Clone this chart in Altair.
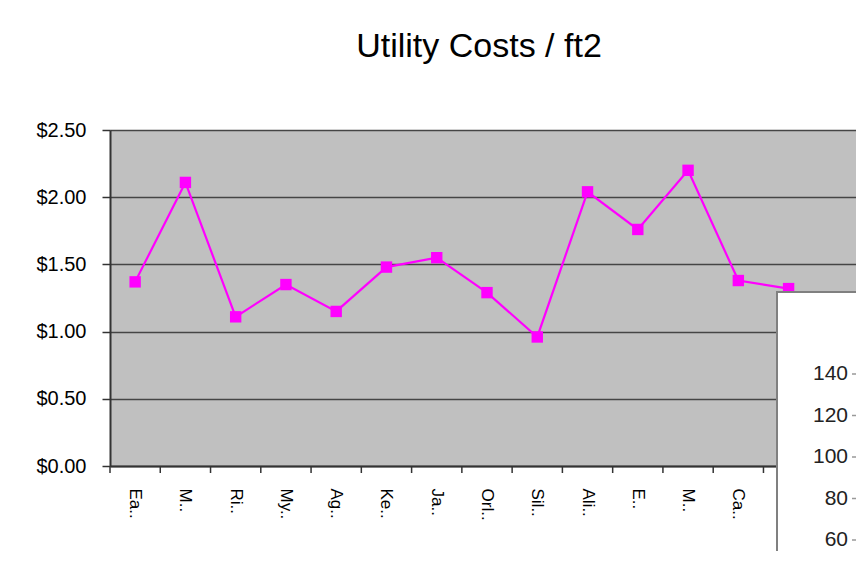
import altair as alt
import pandas as pd

# ---- data ----
labels = ["Ea..", "M..", "Ri..", "My..", "Ag..", "Ke..", "Ja..", "Orl..",
          "Sil..", "Ali..", "E..", "M..", "Ca..", "", ""]
costs = [1.37, 2.11, 1.11, 1.35, 1.15, 1.48, 1.55, 1.29,
         0.96, 2.04, 1.76, 2.20, 1.38, 1.32]
y_ticks = [0, 0.5, 1.0, 1.5, 2.0, 2.5]
other_ticks = [140, 120, 100, 80, 60]   # axis of the overlapping window

n_cat = len(labels)
df = pd.DataFrame({"i": list(range(len(costs))), "cost": costs})
cat_df = pd.DataFrame({"i": list(range(n_cat))})
box_df = pd.DataFrame({"v": other_ticks})
one_df = pd.DataFrame({"b": [0]})

W, H = 746, 336
FULL_W = 754
FONT = "Liberation Sans"
MAGENTA = "#FF00FF"

xscale = alt.Scale(type="band", domain=list(range(n_cat)), range=[0, FULL_W],
                   paddingInner=0, paddingOuter=0)
label_expr = "[" + ",".join("'" + l + "'" for l in labels) + "][datum.value]"

x_axis = alt.Axis(title=None, labelExpr=label_expr, labelAngle=90, ticks=False,
                  domain=True, domainColor="#333333", domainWidth=2,
                  labelFontSize=17, labelFont=FONT, labelColor="black",
                  labelPadding=22, grid=False)
y_axis = alt.Axis(title=None, values=y_ticks, format="$.2f", labelFontSize=20,
                  labelFont=FONT, labelColor="black", tickSize=8, tickColor="#333333",
                  tickWidth=1.5, domainColor="#333333", domainWidth=2, labelPadding=16,
                  grid=True, gridColor="#454545", gridWidth=1.6)

base = alt.Chart(df).encode(
    x=alt.X("i:O", scale=xscale, axis=x_axis),
    y=alt.Y("cost:Q", scale=alt.Scale(domain=[0, 2.5]), axis=y_axis),
)
line = base.mark_line(color=MAGENTA, strokeWidth=2.2)
pts = base.mark_point(shape="square", filled=True, size=130, color=MAGENTA, opacity=1)
main = alt.layer(line, pts)

ticks = alt.Chart(cat_df).mark_rule(color="#333333", strokeWidth=1.5).encode(
    x=alt.X("i:O", bandPosition=0, scale=xscale, axis=x_axis),
    y=alt.value(H), y2=alt.value(H + 7),
)

box = alt.Chart(one_df).mark_rect(fill="white", stroke="#808080", strokeWidth=2).encode(
    x=alt.value(667), x2=alt.value(W + 30), y=alt.value(162), y2=alt.value(H + 150)
)

box_scale = alt.Scale(domain=[60, 140], range=[410, 244])
box_text = alt.Chart(box_df).mark_text(
    align="right", baseline="middle", fontSize=21, font=FONT, color="#222222"
).encode(
    x=alt.value(738), y=alt.Y("v:Q", scale=box_scale, axis=None), text="v:Q"
)
box_ticks = alt.Chart(box_df).mark_rule(color="#999999", strokeWidth=1.5).encode(
    x=alt.value(742), x2=alt.value(746), y=alt.Y("v:Q", scale=box_scale, axis=None)
)

chart = alt.layer(main, ticks, box, box_ticks, box_text).resolve_scale(
    y="independent"
).properties(
    width=W, height=H,
    title=alt.Title("Utility Costs / ft2", fontSize=34, font=FONT, fontWeight="normal",
                    color="black", anchor="middle", dx=-4, offset=56),
    autosize=alt.AutoSizeParams(type="none"),
    padding={"left": 102, "top": 122, "right": 0, "bottom": 85},
).configure_view(fill="#C0C0C0", stroke=None)

chart.save("out.html", embed_options={"renderer": "svg", "actions": False})
